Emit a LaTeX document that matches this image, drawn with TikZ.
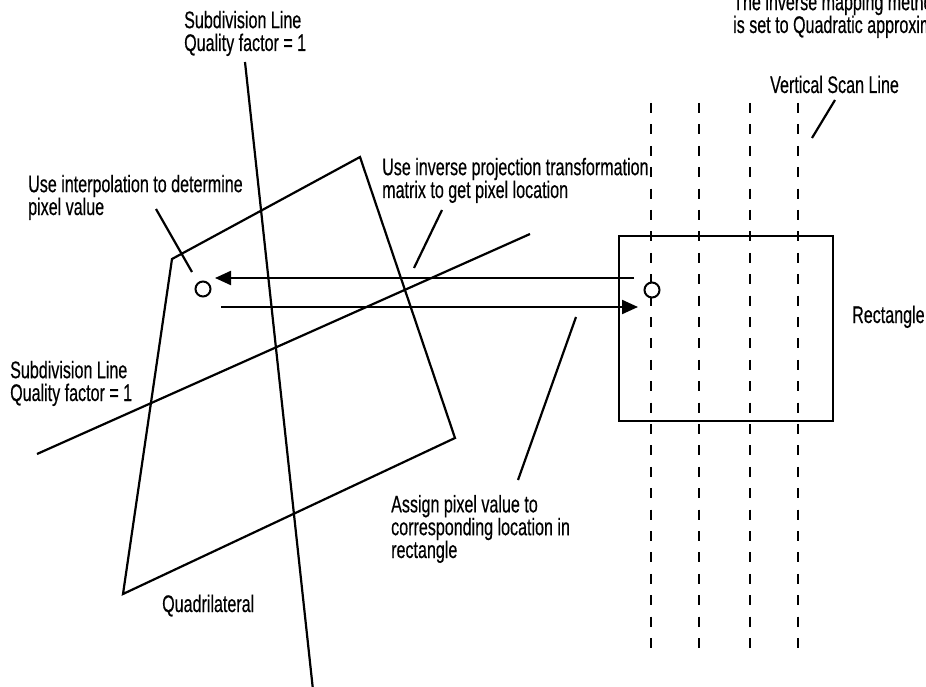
\documentclass[tikz,border=0pt]{standalone}
\usepackage{fontspec}
\setmainfont[FakeStretch=0.67,FakeBold=0.4]{Liberation Sans}
\usetikzlibrary{arrows.meta}
\tikzset{
  ln/.style={line width=2.2pt, line cap=butt, line join=miter},
  lbl/.style={align=left, inner sep=0pt, anchor=base west, font=\fontsize{24}{22.8}\selectfont},
  scan/.style={line width=2.2pt, dash pattern=on 10pt off 11.4pt},
  arr/.style={ln, -{Triangle[length=16pt,width=14pt]}},
  dot/.style={circle, draw, line width=2pt, fill=white, minimum size=15pt, inner sep=0pt}
}
\begin{document}
\begin{tikzpicture}[x=1pt,y=-1pt]
\useasboundingbox (0,0) rectangle (926,687);
\clip (0,0) rectangle (926,687);
% geometry coordinates
\coordinate (q1) at (172,259);
\coordinate (q2) at (360,157);
\coordinate (q3) at (455,438);
\coordinate (q4) at (123,594);
\coordinate (s1a) at (245,62);
\coordinate (s1b) at (313,690);
\coordinate (s2a) at (37,454);
\coordinate (s2b) at (530,234);
% quadrilateral and subdivision lines
\draw[ln] (q1) -- (q2) -- (q3) -- (q4) -- cycle;
\draw[ln] (s1a) -- (s1b);
\draw[ln] (s2a) -- (s2b);
% vertical scan lines
\foreach \x/\n in {651/a,699/b,750/c,798/d}{
  \coordinate (v\n t) at (\x,103);
  \coordinate (v\n b) at (\x,648);
  \draw[scan] (v\n t) -- (v\n b);
}
% rectangle
\node[draw, line width=2.2pt, minimum width=214pt, minimum height=185pt, anchor=north west, inner sep=0pt] (rect) at (618,235) {};
% pixel points
\node[dot] (pl) at (203,289) {};
\node[dot] (pr) at (652,290) {};
% arrows
\coordinate (a1s) at (634,278);
\coordinate (a1e) at (215,278);
\coordinate (a2s) at (221,307);
\coordinate (a2e) at (638,307);
\draw[arr] (a1s) -- (a1e);
\draw[arr] (a2s) -- (a2e);
% labels (anchor = baseline of the last line)
\node[lbl] (tsub) at (184,51) {Subdivision Line\\Quality factor = 1};
\node[lbl] (tint) at (28,215) {Use interpolation to determine\\pixel value};
\node[lbl] (tinv) at (382,198) {Use inverse projection transformation\\matrix to get pixel location};
\node[lbl] (msub) at (10,401) {Subdivision Line\\Quality factor = 1};
\node[lbl] (tquad) at (162,612) {Quadrilateral};
\node[lbl] (tass) at (391,558) {Assign pixel value to\\corresponding location in\\rectangle};
\node[lbl] (trect) at (852,323) {Rectangle};
\node[lbl] (tvs) at (770,93) {Vertical Scan Line};
\node[lbl] (tinvm) at (733,33) {The inverse mapping method\\is set to Quadratic approximation};
% leader lines
\coordinate (l1a) at (156,209); \coordinate (l1b) at (192,272);
\coordinate (l2a) at (442,210); \coordinate (l2b) at (414,268);
\coordinate (l3a) at (576,317); \coordinate (l3b) at (518,480);
\coordinate (l4a) at (835,100); \coordinate (l4b) at (812,138);
\draw[ln] (l1a) -- (l1b);
\draw[ln] (l2a) -- (l2b);
\draw[ln] (l3a) -- (l3b);
\draw[ln] (l4a) -- (l4b);
\end{tikzpicture}
\end{document}
